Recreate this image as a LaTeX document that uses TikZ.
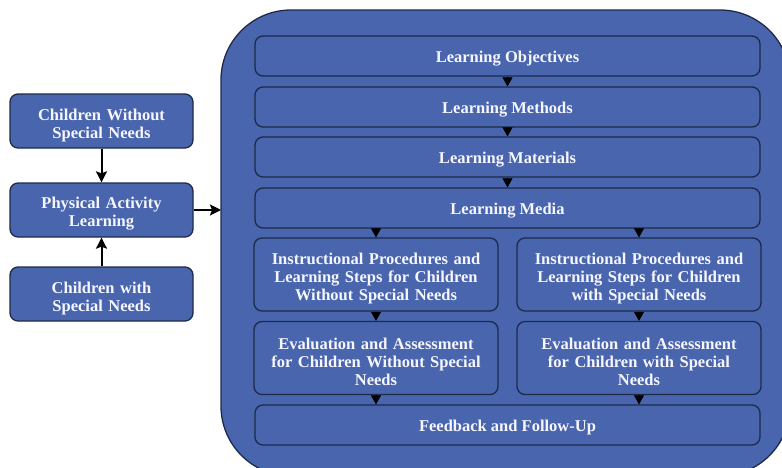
\documentclass[tikz,border=0pt]{standalone}
\usepackage{fontspec}
\setmainfont{Liberation Serif}
\usetikzlibrary{arrows.meta, positioning}

\definecolor{boxblue}{RGB}{72,101,173}
\definecolor{edgeblue}{RGB}{30,42,72}
\definecolor{txt}{RGB}{246,246,255}

\begin{document}
\begin{tikzpicture}[x=1pt, y=-1pt, thick,
  main/.style = {draw=edgeblue, fill=boxblue, line width=1.3pt, rounded corners=8pt,
                 text=txt, align=center, inner sep=0pt,
                 font=\bfseries\fontsize{16.5}{18}\selectfont},
  side/.style = {main, minimum width=183pt, minimum height=54pt, text width=180pt,
                 execute at begin node={\rule{0pt}{19.5pt}}},
  wide/.style = {main, minimum width=505pt, minimum height=40pt,
                 execute at begin node={\rule{0pt}{16.5pt}}},
  half/.style = {main, minimum width=244pt, minimum height=73pt, text width=240pt,
                 execute at begin node={\rule{0pt}{19.5pt}}},
  tip/.style = {-{Triangle[width=10pt, length=9pt]}, line width=0.4pt},
  feed/.style = {-{Stealth[width=11pt, length=11pt, inset=2pt]}, line width=2pt}]
\useasboundingbox (0,0) rectangle (782,467);

% outer frame, partly cut off
\begin{scope}
\clip (0,0) rectangle (782,467);
\filldraw[fill=boxblue, draw=edgeblue, line width=1.3pt, rounded corners=70pt]
  (221,10) rectangle (790,476);
\end{scope}
\coordinate (frame) at (221,210);

% left column
\node[side] (cwo) at (101.5,121) {Children Without\\Special Needs};
\node[side] (pal) at (101.5,210) {Physical Activity\\Learning};
\node[side] (cws) at (101.5,294) {Children with\\Special Needs};

% main steps
\node[wide] (obj) at (507.5,56) {Learning Objectives};
\node[wide] (met) at (507.5,107) {Learning Methods};
\node[wide] (mat) at (507.5,157) {Learning Materials};
\node[wide] (med) at (507.5,208) {Learning Media};
\node[half] (ipa) at (376,274.5) {Instructional Procedures and\\Learning Steps for Children\\Without Special Needs};
\node[half] (ipb) at (639,274.5) {Instructional Procedures and\\Learning Steps for Children\\with Special Needs};
\node[half] (eva) at (376,358) {Evaluation and Assessment\\for Children Without Special\\Needs};
\node[half] (evb) at (639,358) {Evaluation and Assessment\\for Children with Special\\Needs};
\node[wide] (fb) at (507.5,425) {Feedback and Follow-Up};

\draw[feed] (cwo) -- (pal);
\draw[feed] (cws) -- (pal);
\draw[feed] (pal.east) -- (frame);

\draw[tip] (obj) -- (met);
\draw[tip] (met) -- (mat);
\draw[tip] (mat) -- (med);
\draw[tip] (med.south -| ipa) -- (ipa);
\draw[tip] (med.south -| ipb) -- (ipb);
\draw[tip] (ipa) -- (eva);
\draw[tip] (ipb) -- (evb);
\draw[tip] (eva) -- (eva |- fb.north);
\draw[tip] (evb) -- (evb |- fb.north);
\end{tikzpicture}
\end{document}
